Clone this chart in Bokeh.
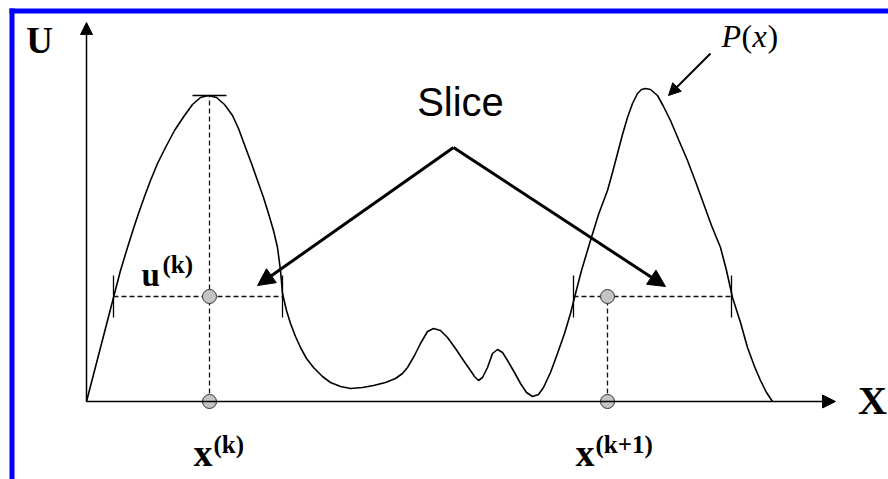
from bokeh.plotting import figure
from bokeh.models import Range1d, Arrow, NormalHead, Label, ColumnDataSource
from bokeh.embed import file_html
from bokeh.resources import INLINE

# Target density P(x), traced as (x, u) pairs; origin at the axes' corner
curve_x = [0, 27, 34, 41, 47, 52, 58, 64, 71, 79, 88, 98, 106, 114, 122, 130,
           138, 146, 152, 159, 165, 171, 177, 182, 187, 191, 194, 196, 200,
           204, 209, 214, 220, 227, 236, 244, 254, 264, 276, 287, 299, 309,
           316, 321, 328, 334, 341, 347, 354, 361, 369, 377, 384, 388, 392,
           396, 401, 406, 411, 416, 421, 428, 434, 440, 446, 452, 457, 464,
           471, 478, 484, 488, 495, 504, 512, 521, 526, 531, 536, 541, 546,
           551, 555, 559, 564, 571, 577, 584, 592, 601, 609, 617, 625, 634,
           640, 646, 654, 661, 668, 674, 680, 686]
curve_u = [0, 104, 131, 154, 173, 188, 205, 221, 238, 254, 271, 286, 297, 304,
           306, 304, 297, 286, 273, 254, 238, 221, 204, 188, 171, 154, 131,
           108, 91, 78, 65, 54, 43, 34, 25, 19, 15, 13, 14, 16, 19, 23, 28,
           34, 46, 58, 70, 73, 71, 64, 53, 41, 31, 25, 21, 24, 34, 48, 52,
           49, 41, 29, 18, 9, 5, 7, 14, 29, 48, 68, 88, 104, 131, 161, 187,
           211, 229, 248, 267, 284, 298, 308, 312, 313, 312, 306, 295, 281,
           262, 241, 220, 198, 176, 154, 131, 104, 79, 54, 35, 21, 9, 0]

# Slice sampler state
u_k = 105                      # slice height u^(k)
x_k = 123                      # current sample x^(k)
x_k1 = 521                     # next sample x^(k+1)
peak_u = 306                   # P(x^(k))
slice_left = [27, 487]         # slice interval ends
slice_right = [196, 645]

# Axis extents
x_axis_end = 749
u_axis_end = 379

p = figure(width=888, height=479,
           x_range=Range1d(-86, 802), y_range=Range1d(-78, 401),
           x_axis_type=None, y_axis_type=None,
           output_backend="svg", toolbar_location=None, min_border=0)
p.outline_line_color = None
p.background_fill_color = "white"
p.border_fill_color = "white"

# Blue frame along the top and left
p.quad(left=[-77, -77], right=[802, -72], bottom=[388, -80], top=[393, 393],
       fill_color="#0000ff", line_color=None)

# Axes with arrowheads
p.add_layout(Arrow(end=NormalHead(size=13, fill_color="black", line_color="black"),
                   x_start=0, y_start=0, x_end=x_axis_end, y_end=0,
                   line_width=1.5, line_color="black"))
p.add_layout(Arrow(end=NormalHead(size=12, fill_color="black", line_color="black"),
                   x_start=0, y_start=0, x_end=0, y_end=u_axis_end,
                   line_width=1.5, line_color="black"))

# Density curve
p.line(curve_x, curve_u, line_color="black", line_width=1.6,
       line_join="round")

# Dashed guides
dash = "5 3"
p.segment(x0=[x_k, x_k1], y0=[0, 0], x1=[x_k, x_k1], y1=[peak_u, u_k],
          line_color="#111111", line_width=1.3, line_dash=dash)
p.segment(x0=slice_left, y0=[u_k, u_k], x1=slice_right, y1=[u_k, u_k],
          line_color="#111111", line_width=1.3, line_dash=dash)

# Bracket ticks at the slice ends and the peak
ends = slice_left + slice_right
p.segment(x0=ends, y0=[u_k - 21] * 4, x1=ends, y1=[u_k + 21] * 4,
          line_color="black", line_width=1.3)
p.segment(x0=[x_k - 17], y0=[peak_u], x1=[x_k + 17], y1=[peak_u],
          line_color="black", line_width=1.3)

# Sample points
p.scatter([x_k, x_k, x_k1, x_k1], [0, u_k, u_k, 0], size=14,
          fill_color="#c4c4c4", line_color="#333333", line_width=1)

# "Slice" call-out arrows
arrows = ColumnDataSource(dict(x0=[367, 367], y0=[254, 254],
                               x1=[171, 579], y1=[116, 115]))
p.add_layout(Arrow(end=NormalHead(size=17, fill_color="black", line_color="black"),
                   x_start="x0", y_start="y0", x_end="x1", y_end="y1",
                   source=arrows, line_width=3, line_color="black"))
p.add_layout(Arrow(end=NormalHead(size=12, fill_color="black", line_color="black"),
                   x_start=624, y_start=348, x_end=582, y_end=306,
                   line_width=2, line_color="black"))

serif = "Liberation Serif"


def label(x, y, text, size, font=serif, style="bold", align="left"):
    p.add_layout(Label(x=x, y=y, text=text, text_font=font,
                       text_font_style=style, text_font_size=f"{size}px",
                       text_align=align, text_baseline="alphabetic",
                       text_color="black"))


label(-47, 361, "U", 37, align="center")
label(786, 1, "X", 40, align="center")
label(374, 300, "Slice", 40, font="Liberation Sans", style="normal", align="center")

# P(x): italic letters, upright parentheses
label(635, 366, "P", 32, style="italic")
label(655, 366, "(", 32, style="normal")
label(666, 366, "x", 32, style="italic")
label(681, 366, ")", 32, style="normal")

label(55, 127, "u", 33)
label(76, 137, "(k)", 25)
label(107, -51, "x", 38)
label(127, -43, "(k)", 25)
label(489, -51, "x", 38)
label(509, -43, "(k+1)", 25)

open("out.html", "w").write(file_html(p, INLINE))
